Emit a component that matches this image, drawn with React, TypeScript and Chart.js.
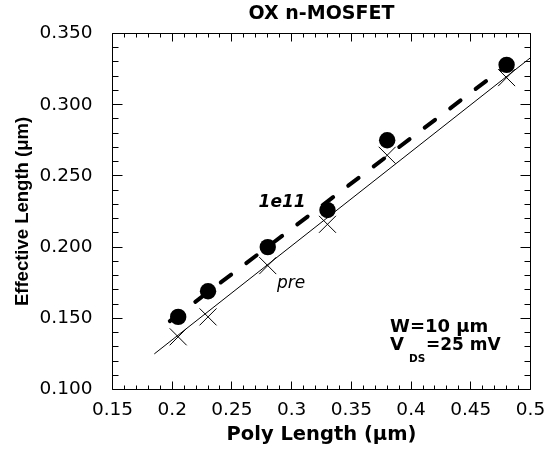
import { useEffect, useRef } from "react";
import { Chart, registerables } from "chart.js";

Chart.register(...registerables);

const FONT = "'DejaVu Sans', sans-serif";
const NARROW_FONT = "'Liberation Sans', Arial, sans-serif";

// Poly gate length of each device (µm)
const polyLength = [0.205, 0.23, 0.28, 0.33, 0.38, 0.48];
// Effective channel length after 1e11 stress (µm)
const leff1e11 = [0.151, 0.169, 0.2, 0.226, 0.275, 0.328];
// Effective channel length before stress (µm)
const leffPre = [0.137, 0.151, 0.187, 0.216, 0.2645, 0.319];

// Straight-line fits, given by their end points
const fitPreX = [0.185, 0.5];
const fitPreY = [0.125, 0.333];
const fit1e11X = [0.198, 0.487];
const fit1e11Y = [0.148, 0.332];

const xTickValues = [0.15, 0.2, 0.25, 0.3, 0.35, 0.4, 0.45, 0.5];
const xTickLabels = ["0.15", "0.2", "0.25", "0.3", "0.35", "0.4", "0.45", "0.5"];
const yTickValues = [0.1, 0.15, 0.2, 0.25, 0.3, 0.35];
const yTickLabels = ["0.100", "0.150", "0.200", "0.250", "0.300", "0.350"];
const minorStep = 0.01;

const chartTitle = "OX n-MOSFET";

const toPoints = (xs: number[], ys: number[]) => xs.map((x, i) => ({ x, y: ys[i] }));

// Box frame with inward major/minor ticks on all four sides
const framePlugin = {
  id: "frameTicks",
  beforeDatasetsDraw(chart: any) {
    const { ctx, chartArea: a, scales } = chart;
    const xs = scales.x;
    const ys = scales.y;
    const snap = (p: number) => Math.floor(p) + 0.5;
    ctx.save();
    ctx.strokeStyle = "#000";
    ctx.lineWidth = 1;
    ctx.beginPath();
    ctx.rect(a.left, a.top, a.right - a.left, a.bottom - a.top);
    const nx = Math.round((xs.max - xs.min) / minorStep);
    for (let i = 0; i <= nx; i++) {
      const px = snap(xs.getPixelForValue(xs.min + i * minorStep));
      const len = i % 5 === 0 ? 8 : 4;
      ctx.moveTo(px, a.bottom);
      ctx.lineTo(px, a.bottom - len);
      ctx.moveTo(px, a.top);
      ctx.lineTo(px, a.top + len);
    }
    const ny = Math.round((ys.max - ys.min) / minorStep);
    for (let i = 0; i <= ny; i++) {
      const py = snap(ys.getPixelForValue(ys.min + i * minorStep));
      const len = i % 5 === 0 ? 10 : 6;
      ctx.moveTo(a.left, py);
      ctx.lineTo(a.left + len, py);
      ctx.moveTo(a.right, py);
      ctx.lineTo(a.right - len, py);
    }
    ctx.stroke();
    ctx.restore();
  },
};

// Title over the plot box, curve labels and bias conditions
const notesPlugin = {
  id: "notes",
  afterDraw(chart: any) {
    const { ctx, scales, chartArea: a } = chart;
    const x = scales.x;
    const y = scales.y;
    ctx.save();
    ctx.fillStyle = "#000";

    ctx.textAlign = "center";
    ctx.textBaseline = "middle";
    ctx.font = `bold 19px ${FONT}`;
    ctx.fillText(chartTitle, (a.left + a.right) / 2, a.top - 19);

    ctx.textBaseline = "alphabetic";
    ctx.font = `italic bold 17px ${FONT}`;
    ctx.fillText("1e11", x.getPixelForValue(0.292), y.getPixelForValue(0.2284));
    ctx.font = `italic 17px ${FONT}`;
    ctx.fillText("pre", x.getPixelForValue(0.2995), y.getPixelForValue(0.1711));

    ctx.textAlign = "left";
    const left = x.getPixelForValue(0.3824);
    ctx.font = `bold 18px ${FONT}`;
    ctx.fillText("W=10 μm", left, y.getPixelForValue(0.1406));
    const base2 = y.getPixelForValue(0.1277);
    ctx.fillText("V", left, base2);
    ctx.font = `bold 10.5px ${FONT}`;
    ctx.fillText("DS", left + 19, base2 + 12);
    ctx.font = `bold 17px ${FONT}`;
    ctx.fillText("=25 mV", left + 36, base2);
    ctx.restore();
  },
};

export default function App() {
  const canvasRef = useRef<HTMLCanvasElement | null>(null);

  useEffect(() => {
    const canvas = canvasRef.current;
    if (!canvas) return;
    Chart.defaults.font.family = FONT;
    Chart.defaults.color = "#000";

    const chart = new Chart(canvas, {
      type: "scatter",
      data: {
        datasets: [
          {
            label: "1e11",
            data: toPoints(polyLength, leff1e11),
            pointStyle: "circle",
            pointRadius: 8.2,
            backgroundColor: "#000",
            borderColor: "#000",
            borderWidth: 0,
            order: 0,
          },
          {
            label: "pre",
            data: toPoints(polyLength, leffPre),
            pointStyle: "crossRot",
            pointRadius: 12,
            backgroundColor: "#000",
            borderColor: "#000",
            borderWidth: 1,
            order: 1,
          },
          {
            label: "1e11 fit",
            data: toPoints(fit1e11X, fit1e11Y),
            showLine: true,
            pointRadius: 0,
            borderColor: "#000",
            borderWidth: 4,
            borderDash: [13, 19],
            borderCapStyle: "round",
            order: 2,
          },
          {
            label: "pre fit",
            data: toPoints(fitPreX, fitPreY),
            showLine: true,
            pointRadius: 0,
            borderColor: "#000",
            borderWidth: 1,
            order: 3,
          },
        ],
      },
      options: {
        responsive: false,
        animation: false,
        events: [],
        layout: { padding: { left: 0, right: 24.5, top: 33.5, bottom: 0 } },
        plugins: {
          legend: { display: false },
          tooltip: { enabled: false },
          title: { display: false },
        },
        scales: {
          x: {
            type: "linear",
            min: 0.15,
            max: 0.5,
            grid: { display: false },
            border: { display: false },
            afterBuildTicks: (s: any) => {
              s.ticks = xTickValues.map((v) => ({ value: v }));
            },
            afterFit: (s: any) => {
              s.height = 60.5;
            },
            ticks: {
              callback: (_v: any, i: number) => xTickLabels[i],
              font: { family: FONT, size: 18.5 },
              color: "#000",
              padding: 1.5,
              maxRotation: 0,
              autoSkip: false,
            },
            title: {
              display: true,
              text: "Poly Length (μm)",
              color: "#000",
              font: { family: FONT, size: 19.5, weight: "bold" },
              padding: { top: 0, bottom: 3 },
            },
          },
          y: {
            type: "linear",
            min: 0.1,
            max: 0.35,
            grid: { display: false },
            border: { display: false },
            afterBuildTicks: (s: any) => {
              s.ticks = yTickValues.map((v) => ({ value: v }));
            },
            afterFit: (s: any) => {
              s.width = 112.5;
            },
            ticks: {
              callback: (_v: any, i: number) => yTickLabels[i],
              font: { family: FONT, size: 18.5 },
              color: "#000",
              padding: 12,
              autoSkip: false,
            },
            title: {
              display: true,
              text: "Effective Length (μm)",
              color: "#000",
              font: { family: NARROW_FONT, size: 18.5, weight: "bold" },
              padding: { top: 12, bottom: 0 },
            },
          },
        },
      },
      plugins: [framePlugin, notesPlugin],
    } as any);

    return () => chart.destroy();
  }, []);

  return (
    <div style={{ position: "fixed", left: 0, top: 0, width: 555, height: 450, background: "#fff" }}>
      <canvas ref={canvasRef} width={555} height={450} style={{ display: "block" }} />
    </div>
  );
}
